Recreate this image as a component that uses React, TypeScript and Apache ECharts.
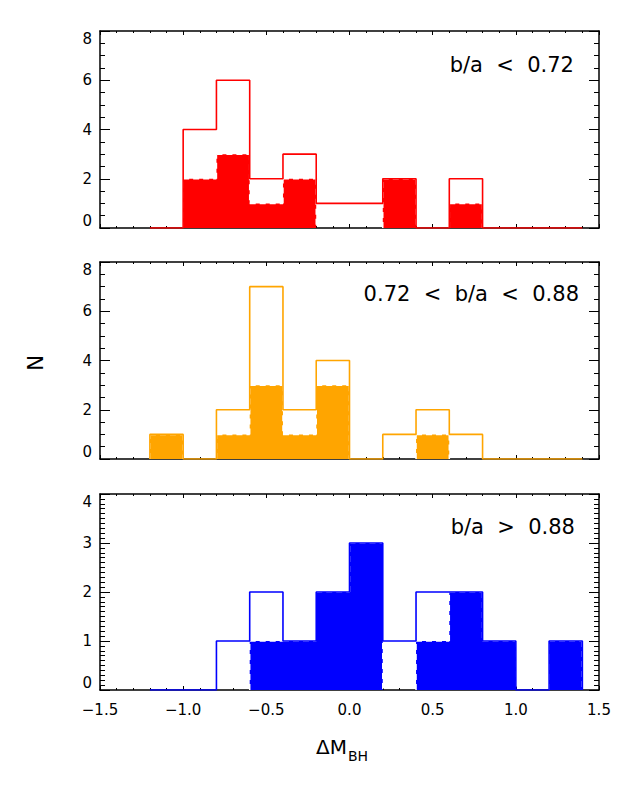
import React, { useEffect, useRef } from 'react';
import * as echarts from 'echarts';

// Bin edges of the histograms (bin width 0.2)
const binEdges = [-1.2, -1.0, -0.8, -0.6, -0.4, -0.2, 0.0, 0.2, 0.4, 0.6, 0.8, 1.0, 1.2, 1.4];

// Counts per bin: full sample (outline) and sub-sample (filled)
const allLow = [0, 4, 6, 2, 3, 1, 1, 2, 0, 2, 0, 0, 0];
const subLow = [0, 2, 3, 1, 2, 0, 0, 2, 0, 1, 0, 0, 0];
const allMid = [1, 0, 2, 7, 2, 4, 0, 1, 2, 1, 0, 0, 0];
const subMid = [1, 0, 1, 3, 1, 3, 0, 0, 1, 0, 0, 0, 0];
const allHigh = [0, 0, 1, 2, 1, 2, 3, 1, 2, 2, 1, 0, 1];
const subHigh = [0, 0, 0, 1, 1, 2, 3, 0, 1, 2, 1, 0, 1];

const panelLabels = ['b/a  <  0.72', '0.72  <  b/a  <  0.88', 'b/a  >  0.88'];
const panelColors = ['#ff0000', '#ffa500', '#0000ff'];
const yMaxes = [8, 8, 4];
const yIntervals = [2, 2, 1];
const yMinorSplits = [4, 4, 10];
const xMin = -1.5;
const xMax = 1.5;
const xInterval = 0.5;

const FONT = '"DejaVu Sans", "Liberation Sans", Arial, sans-serif';

const grids = [
  { left: 100, width: 499, top: 31, height: 197 },
  { left: 100, width: 499, top: 262, height: 197 },
  { left: 100, width: 499, top: 494, height: 196 },
];
const titlePos = [
  { x: 574, y: 65 },
  { x: 579, y: 294 },
  { x: 575, y: 527 },
];

function outlinePoints(vals: number[]) {
  const n = vals.length;
  const pts: number[][] = [[binEdges[0], 0]];
  vals.forEach((v, i) => pts.push([binEdges[i], v]));
  pts.push([binEdges[n], vals[n - 1]]);
  pts.push([binEdges[n], 0]);
  return pts;
}

function fillPoints(vals: number[]) {
  const n = vals.length;
  const pts: number[][] = vals.map((v, i) => [binEdges[i], v]);
  pts.push([binEdges[n], vals[n - 1]]);
  return pts;
}

function dashItems(vals: number[]) {
  const n = vals.length;
  const items: number[][] = vals.map((v, i) => [binEdges[i], binEdges[i + 1], v, i === 0 ? 0 : vals[i - 1]]);
  items.push([binEdges[n], binEdges[n], 0, vals[n - 1]]);
  return items;
}

const fmtX = (v: number) => {
  const s = Math.abs(v).toFixed(1);
  return v < -1e-9 ? '\u2212' + s : s;
};

export default function App() {
  const ref = useRef<HTMLDivElement>(null);

  useEffect(() => {
    if (!ref.current) return;
    const chart = echarts.init(ref.current, undefined, { renderer: 'svg' });

    const allSets = [allLow, allMid, allHigh];
    const subSets = [subLow, subMid, subHigh];

    const axisLine = { show: true, onZero: false, lineStyle: { color: '#000', width: 1.5 } };
    const xAxes: any[] = [];
    const yAxes: any[] = [];
    const series: any[] = [];

    grids.forEach((_, g) => {
      ['bottom', 'top'].forEach((pos) => {
        xAxes.push({
          type: 'value',
          gridIndex: g,
          position: pos,
          min: xMin,
          max: xMax,
          interval: xInterval,
          axisLine,
          axisTick: { show: true, inside: true, length: 4, lineStyle: { color: '#000', width: 1 } },
          minorTick: { show: true, splitNumber: 5, length: 2, lineStyle: { color: '#000', width: 1 } },
          splitLine: { show: false },
          minorSplitLine: { show: false },
          axisLabel: {
            show: g === 2 && pos === 'bottom',
            formatter: fmtX,
            color: '#000',
            fontSize: 15,
            fontFamily: FONT,
            margin: 12,
          },
        });
      });
      ['left', 'right'].forEach((pos) => {
        yAxes.push({
          type: 'value',
          gridIndex: g,
          position: pos,
          min: 0,
          max: yMaxes[g],
          interval: yIntervals[g],
          axisLine,
          axisTick: { show: true, inside: true, length: 10, lineStyle: { color: '#000', width: 1 } },
          minorTick: { show: true, splitNumber: yMinorSplits[g], length: 5, lineStyle: { color: '#000', width: 1 } },
          splitLine: { show: false },
          minorSplitLine: { show: false },
          axisLabel: {
            show: pos === 'left',
            formatter: (v: number) => String(Math.round(v)),
            color: '#000',
            fontSize: 15,
            fontFamily: FONT,
            margin: 8,
            verticalAlignMinLabel: 'bottom',
            verticalAlignMaxLabel: 'top',
          },
        });
      });

      const color = panelColors[g];
      const xi = g * 2;
      const yi = g * 2;

      series.push({
        type: 'line',
        xAxisIndex: xi,
        yAxisIndex: yi,
        step: 'end',
        data: fillPoints(subSets[g]),
        showSymbol: false,
        symbol: 'none',
        lineStyle: { width: 0, opacity: 0 },
        areaStyle: { color, opacity: 1, origin: 'start' },
        z: 2,
        silent: true,
      });

      series.push({
        type: 'custom',
        xAxisIndex: xi,
        yAxisIndex: yi,
        data: dashItems(subSets[g]),
        z: 3,
        silent: true,
        renderItem: (params: any, api: any) => {
          const x0 = api.value(0);
          const x1 = api.value(1);
          const v = api.value(2);
          const p = api.value(3);
          const style = { stroke: '#ffffff', lineWidth: 1.5, lineDash: [6, 4], fill: null };
          const children: any[] = [];
          if (v !== p) {
            const a = api.coord([x0, p]);
            const b = api.coord([x0, v]);
            children.push({ type: 'line', shape: { x1: a[0], y1: a[1], x2: b[0], y2: b[1] }, style });
          }
          if (v > 0 && x1 > x0) {
            const a = api.coord([x0, v]);
            const b = api.coord([x1, v]);
            children.push({ type: 'line', shape: { x1: a[0], y1: a[1], x2: b[0], y2: b[1] }, style });
          }
          return { type: 'group', children };
        },
      });

      series.push({
        type: 'line',
        xAxisIndex: xi,
        yAxisIndex: yi,
        step: 'end',
        data: outlinePoints(allSets[g]),
        showSymbol: false,
        symbol: 'none',
        lineStyle: { color, width: 1.6 },
        z: 4,
        silent: true,
      });
    });

    const graphics: any[] = panelLabels.map((t, g) => ({
      type: 'text',
      x: titlePos[g].x,
      y: titlePos[g].y,
      style: {
        text: t,
        align: 'right',
        verticalAlign: 'middle',
        fontSize: 21,
        fontFamily: FONT,
        fill: '#000',
      },
    }));
    graphics.push({
      type: 'text',
      x: 36,
      y: 363,
      rotation: Math.PI / 2,
      style: { text: 'N', align: 'center', verticalAlign: 'middle', fontSize: 21, fontFamily: FONT, fill: '#000' },
    });
    graphics.push({
      type: 'text',
      x: 316,
      y: 747,
      style: { text: '\u0394M', align: 'left', verticalAlign: 'middle', fontSize: 20, fontFamily: FONT, fill: '#000' },
    });
    graphics.push({
      type: 'text',
      x: 348,
      y: 756,
      style: { text: 'BH', align: 'left', verticalAlign: 'middle', fontSize: 14, fontFamily: FONT, fill: '#000' },
    });

    chart.setOption({
      animation: false,
      backgroundColor: '#ffffff',
      grid: grids.map((g) => ({ ...g, containLabel: false })),
      xAxis: xAxes,
      yAxis: yAxes,
      series,
      graphic: graphics,
    });

    return () => chart.dispose();
  }, []);

  return (
    <div
      ref={ref}
      style={{ position: 'absolute', left: 0, top: 0, width: 629, height: 786, background: '#fff' }}
    />
  );
}
